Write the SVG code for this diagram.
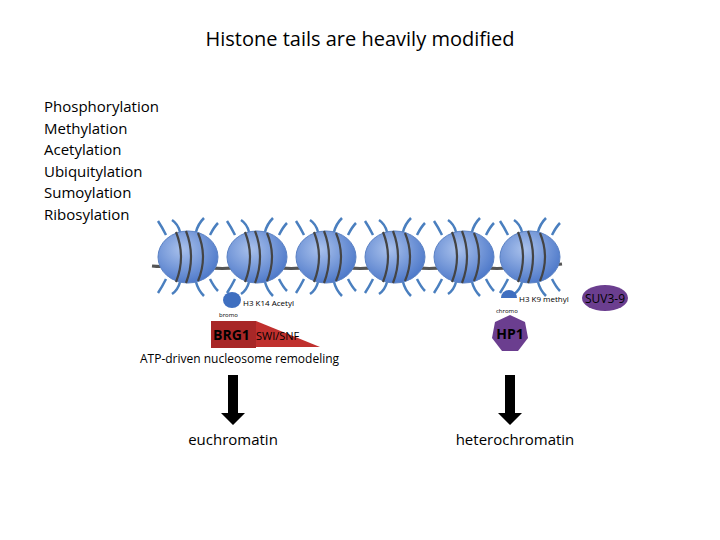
<svg xmlns="http://www.w3.org/2000/svg" width="720" height="540" viewBox="0 0 720 540">
<defs>
<radialGradient id="g" cx="0.4" cy="0.35" r="0.7"><stop offset="0" stop-color="#a9c1ec"/><stop offset="1" stop-color="#4a76c8"/></radialGradient>
<g id="nuc">
<path d="M-22,-22 q-4,-8 -8,-14 M-8,-25 q-2,-8 -8,-12 M8,-25 q2,-8 8,-14 M22,-22 q4,-8 8,-12 M-22,22 q-4,8 -8,14 M-8,25 q-2,8 -8,12 M8,25 q2,8 8,14 M22,22 q4,8 8,12" fill="none" stroke="#4a7fbf" stroke-width="2.5"/>
<ellipse rx="30" ry="26" fill="url(#g)" stroke="#5b82c4" stroke-width="1"/>
<path d="M-12,-25 q10,25 0,50 M-2,-26 q10,26 0,52 M10,-24 q10,24 0,48" fill="none" stroke="#444" stroke-width="2.2"/>
</g>
<marker id="a" viewBox="0 0 10 10" refX="5" refY="5" markerWidth="1" markerHeight="1"/>
</defs>
<style>text{font-family:"Open Sans","DejaVu Sans",sans-serif;fill:#000}</style>
<text x="360" y="46" text-anchor="middle" font-size="20">Histone tails are heavily modified</text>
<g font-size="15">
<text x="44" y="112">Phosphorylation</text><text x="44" y="134">Methylation</text><text x="44" y="155">Acetylation</text><text x="44" y="177">Ubiquitylation</text><text x="44" y="198">Sumoylation</text><text x="44" y="220">Ribosylation</text>
</g>
<g id="connectors">
<path d="M152,266 Q170,268 188,262 Q222,275 257,262 Q291,275 326,262 Q360,275 395,262 Q429,275 464,262 Q497,275 530,262 Q548,266 562,264" fill="none" stroke="#555" stroke-width="3"/>
<path d="M228,375 h10 v38 h7 l-12,12 l-12,-12 h7 z" fill="#000"/>
<path d="M505,375 h10 v38 h7 l-12,12 l-12,-12 h7 z" fill="#000"/>
</g>
<g id="nucleosomes">
<use href="#nuc" x="188" y="257"/><use href="#nuc" x="257" y="257"/><use href="#nuc" x="326" y="257"/><use href="#nuc" x="395" y="257"/><use href="#nuc" x="464" y="257"/><use href="#nuc" x="530" y="257"/>
</g>
<g id="brg1">
<ellipse cx="232" cy="300" rx="9" ry="8" fill="#3f6fc0"/>
<text x="243" y="306" font-size="8">H3 K14 Acetyl</text>
<text x="219" y="317" font-size="6">bromo</text>
<path d="M211,321 h45 l64,26 h-109 z" fill="#c0302e"/>
<rect x="211" y="321" width="45" height="27" fill="#a82727"/>
<text x="213" y="340" font-size="14" font-weight="bold">BRG1</text>
<text x="256" y="340" font-size="11">SWI/SNF</text>
<text x="140" y="363" font-size="12">ATP-driven nucleosome remodeling</text>
</g>
<g id="hp1">
<path d="M501,298 a8,8 0 0 1 16,0 z" fill="#3f6fc0"/>
<text x="519" y="302" font-size="8">H3 K9 methyl</text>
<text x="496" y="313" font-size="6">chromo</text>
<path d="M510,315 l15,7 l3,16 l-10,13 l-16,0 l-10,-13 l3,-16 z" fill="#6b3e8f"/>
<text x="510" y="339" text-anchor="middle" font-size="14" font-weight="bold">HP1</text>
</g>
<g id="suv">
<ellipse cx="605" cy="298" rx="23" ry="13" fill="#6b3e8f"/>
<text x="605" y="303" text-anchor="middle" font-size="12">SUV3-9</text>
</g>
<text x="233" y="445" text-anchor="middle" font-size="15">euchromatin</text>
<text x="515" y="445" text-anchor="middle" font-size="15">heterochromatin</text>
</svg>
